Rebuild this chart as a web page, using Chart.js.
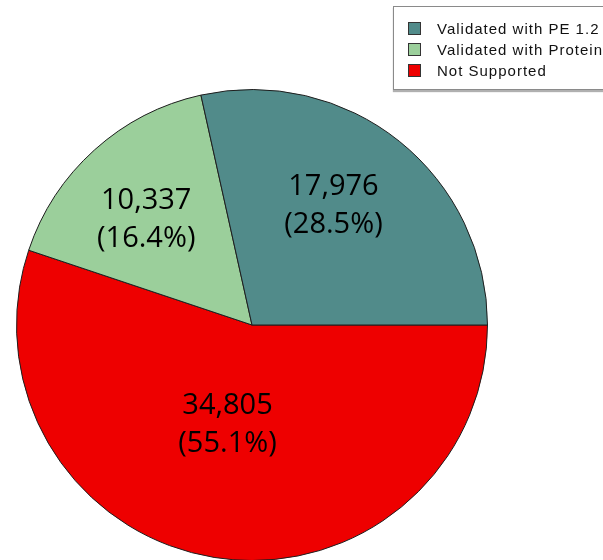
<!DOCTYPE html>
<html>
<head>
<meta charset="utf-8">
<script src="https://cdn.jsdelivr.net/npm/chart.js@4/dist/chart.umd.min.js"></script>
<style>
    html, body { margin: 0; padding: 0; background: #fff; overflow: hidden; width: 603px; height: 560px; }
    #pie { position: absolute; left: 0; top: 0; }
    #legend {
        position: absolute; left: 393px; top: 6px; width: 220px; height: 82px;
        border: 1px solid #8a8a8a; box-shadow: 0 2px 1px #b0b0b0; background: #fff;
        font-family: "Liberation Sans", Arial, sans-serif; font-size: 15px; letter-spacing: 1px; color: #111;
    }
    #legend .item { position: absolute; left: 14px; height: 21px; line-height: 21px; white-space: nowrap; }
    #legend .box { position: absolute; left: 0; top: 4px; width: 11px; height: 11px; border: 1px solid #333; }
    #legend .txt { position: absolute; left: 29px; top: 0; }
</style>
</head>
<body>
<canvas id="pie" width="603" height="600"></canvas>
<div id="legend"></div>
<script>
// data, legend order
var categories = ["Validated with PE 1.2", "Validated with Protein", "Not Supported"];
var values = [17976, 10337, 34805];
var colors = ["#518b8a", "#9bcf9b", "#ee0000"];

var total = values.reduce(function (a, b) { return a + b; }, 0);

// legend
var legendHtml = "";
for (let i = 0; i < categories.length; i++) {
    legendHtml += '<div class="item" style="top:' + (11 + i * 21) + 'px">' +
        '<span class="box" style="background:' + colors[i] + '"></span>' +
        '<span class="txt">' + categories[i] + '</span></div>';
}
document.getElementById('legend').innerHTML = legendHtml;

// slices run counter-clockwise from 3 o'clock in the original, so feed them reversed
var chartLabels = categories.slice().reverse();
var chartValues = values.slice().reverse();
var chartColors = colors.slice().reverse();

// label placement per slice (chart order: red, green, teal): [angle nudge deg, radius fraction]
var labelPlace = [[4.5, 0.437], [-3, 0.635], [-4.5, 0.615]];

var sliceLabels = {
    id: 'sliceLabels',
    afterDatasetsDraw: function (chart) {
        var ctx = chart.ctx;
        var arcs = chart.getDatasetMeta(0).data;
        ctx.save();
        ctx.font = '29px "Open Sans", "Noto Sans", sans-serif';
        ctx.fillStyle = '#000';
        ctx.textAlign = 'center';
        ctx.textBaseline = 'middle';
        arcs.forEach(function (arc, i) {
            var p = arc.getProps(['x', 'y', 'startAngle', 'endAngle', 'outerRadius'], true);
            var mid = (p.startAngle + p.endAngle) / 2 + labelPlace[i][0] * Math.PI / 180;
            var r = p.outerRadius * labelPlace[i][1];
            var x = p.x + Math.cos(mid) * r;
            var y = p.y + Math.sin(mid) * r;
            var v = chartValues[i];
            var pct = (v / total * 100).toFixed(1) + '%';
            ctx.fillText(v.toLocaleString('en-US'), x, y - 19);
            ctx.fillText('(' + pct + ')', x, y + 19);
        });
        ctx.restore();
    }
};

var ctx1 = document.getElementById('pie').getContext('2d');
var myChart1 = new Chart(ctx1, {
    type: 'pie',
    data: {
        labels: chartLabels,
        datasets: [{
            data: chartValues,
            backgroundColor: chartColors,
            borderColor: '#1e1e1e',
            borderWidth: 1
        }]
    },
    options: {
        responsive: false,
        animation: false,
        rotation: 90,
        layout: { padding: { left: 16, right: 115, top: 89, bottom: 39 } },
        plugins: {
            legend: { display: false },
            tooltip: { enabled: false }
        }
    },
    plugins: [sliceLabels]
});
</script>
</body>
</html>
